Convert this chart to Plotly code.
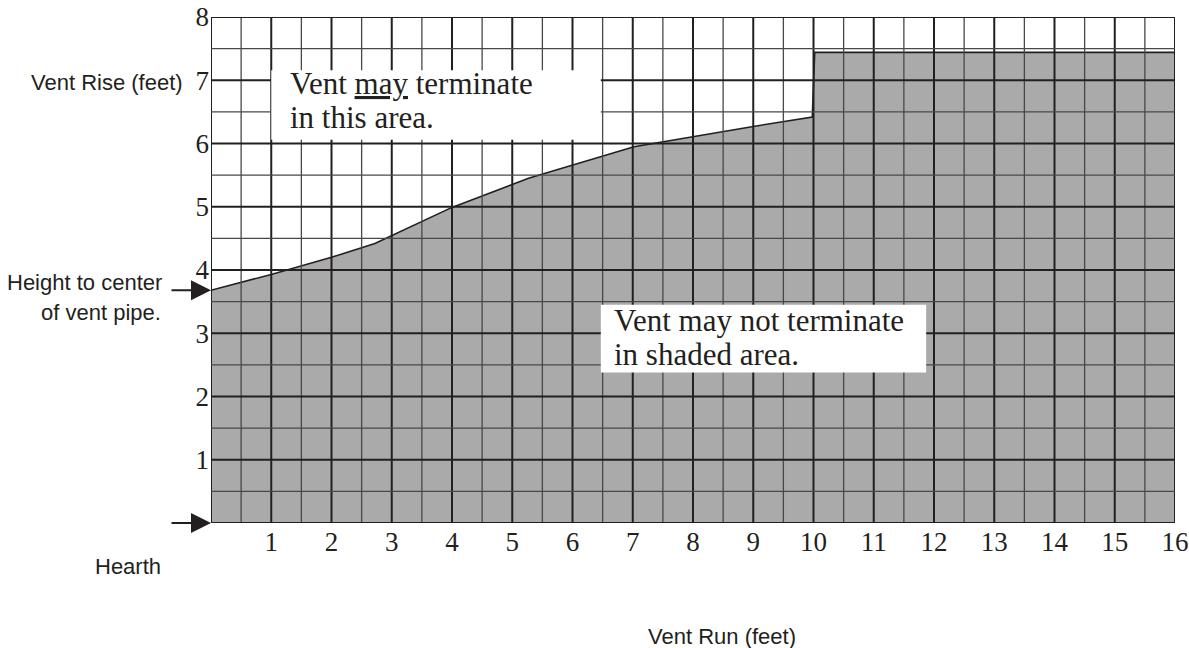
import plotly.graph_objects as go
import numpy as np

# ---- data ----
run_ft = [0.0, 1.0, 2.0, 2.72, 4.0, 5.27, 7.02, 8.0, 9.0, 9.98, 10.02, 16.0]
rise_ft = [3.68, 3.93, 4.20, 4.42, 4.99, 5.45, 5.95, 6.11, 6.27, 6.42, 7.44, 7.44]
x_tick_vals = list(range(1, 17))
x_tick_text = [str(v) for v in x_tick_vals]
y_tick_vals = list(range(1, 9))
y_tick_text = [str(v) for v in y_tick_vals]
vent_pipe_height = 3.68
hearth_height = 0.0

X_MAX, Y_MAX = 16, 8
INK = "#231f20"
SERIF = "Liberation Serif, Times New Roman, serif"
SANS = "Liberation Sans, Arial, sans-serif"

FIG_W, FIG_H = 1189, 648
PL, PT, PR, PB = 211, 17, 1175, 523          # plot box in page pixels
PW, PH = PR - PL, PB - PT


def px(xp):
    return (xp - PL) / PW


def py(yp):
    return (PB - yp) / PH


fig = go.Figure()
fig.add_trace(go.Scatter(
    x=run_ft, y=rise_ft, mode="lines", fill="tozeroy",
    fillcolor="#aaaaaa", line=dict(color=INK, width=1.6),
    hoverinfo="skip", showlegend=False))

shapes = []
for gx in np.arange(0, X_MAX + 0.01, 0.5):
    major = float(gx).is_integer()
    shapes.append(dict(type="line", xref="x", yref="y", x0=gx, x1=gx, y0=0, y1=Y_MAX,
                       layer="above",
                       line=dict(color=INK if major else "#4a4747", width=2 if major else 1.3)))
for gy in np.arange(0, Y_MAX + 0.01, 0.5):
    major = float(gy).is_integer()
    shapes.append(dict(type="line", xref="x", yref="y", x0=0, x1=X_MAX, y0=gy, y1=gy,
                       layer="above",
                       line=dict(color=INK if major else "#4a4747", width=2 if major else 1.3)))
# white label boxes
shapes.append(dict(type="rect", xref="x", yref="y", x0=1.0, x1=6.47, y0=6.06, y1=7.16,
                   layer="above", fillcolor="white", line=dict(width=0)))
shapes.append(dict(type="rect", xref="x", yref="y", x0=6.47, x1=11.87, y0=2.38, y1=3.45,
                   layer="above", fillcolor="white", line=dict(width=0)))


def serif_line(text, xp, yp):
    return dict(x=px(xp), y=py(yp), xref="paper", yref="paper", xanchor="left",
                yanchor="middle", align="left", text=text, showarrow=False,
                font=dict(family=SERIF, size=31, color=INK))


def sans_label(text, xp, yp, anchor="right"):
    return dict(x=px(xp), y=py(yp), xref="paper", yref="paper", xanchor=anchor,
                yanchor="middle", text=text, showarrow=False,
                font=dict(family=SANS, size=22, color=INK))


annotations = [
    serif_line("Vent <u>may</u> terminate", 288, 83),
    serif_line("in this area.", 288, 118),
    serif_line("Vent may not terminate", 612, 320),
    serif_line("in shaded area.", 612, 355),
    sans_label("Vent Rise (feet)", 185, 82),
    sans_label("Height to center", 164, 282),
    sans_label("of vent pipe.", 163, 312),
    sans_label("Hearth", 163, 566),
    sans_label("Vent Run (feet)", 722, 636, anchor="center"),
    dict(x=0, y=vent_pipe_height, xref="x", yref="y", ax=-41, ay=0, text="",
         showarrow=True, arrowhead=2, arrowsize=2, arrowwidth=2, arrowcolor=INK, standoff=0),
    dict(x=0, y=hearth_height, xref="x", yref="y", ax=-41, ay=0, text="",
         showarrow=True, arrowhead=2, arrowsize=2, arrowwidth=2, arrowcolor=INK, standoff=0),
]

fig.update_layout(
    width=FIG_W, height=FIG_H,
    margin=dict(l=PL, r=FIG_W - PR, t=PT, b=FIG_H - PB, autoexpand=False),
    paper_bgcolor="white", plot_bgcolor="white",
    shapes=shapes, annotations=annotations, showlegend=False,
    xaxis=dict(range=[0, X_MAX], showgrid=False, zeroline=False, showline=False,
               automargin=False, ticklabeloverflow="allow",
               tickvals=x_tick_vals, ticktext=x_tick_text, ticks="", ticklabelstandoff=0,
               tickfont=dict(family=SERIF, size=27, color=INK), fixedrange=True),
    yaxis=dict(range=[0, Y_MAX], showgrid=False, zeroline=False, showline=False,
               automargin=False, ticklabeloverflow="allow",
               tickvals=y_tick_vals, ticktext=y_tick_text, ticks="", ticklabelstandoff=1,
               tickfont=dict(family=SERIF, size=27, color=INK), fixedrange=True),
)

fig.write_html(
    "out.html",
    config={"displayModeBar": False, "staticPlot": True},
    post_script="document.body.style.margin='0';document.body.style.overflow='hidden';",
)
